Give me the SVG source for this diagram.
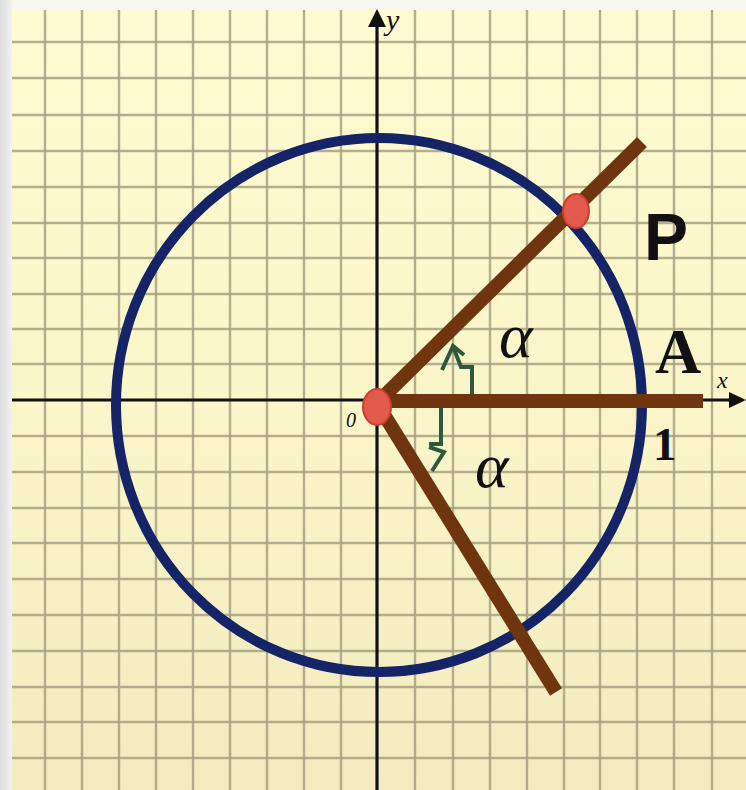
<svg xmlns="http://www.w3.org/2000/svg" width="746" height="790" viewBox="0 0 746 790">
  <defs>
    <linearGradient id="paper" x1="0" y1="0" x2="0" y2="1">
      <stop offset="0" stop-color="#fefbd2"/>
      <stop offset="0.5" stop-color="#fbf6c9"/>
      <stop offset="1" stop-color="#f1ebbf"/>
    </linearGradient>
    <linearGradient id="edge" x1="0" y1="0" x2="1" y2="0">
      <stop offset="0" stop-color="#dcdcdc"/>
      <stop offset="1" stop-color="#f2f2f0"/>
    </linearGradient>
  </defs>
  <style>
    .grid line { stroke: #a9a283; stroke-width: 2.4; opacity: 0.85; }
    .axis { stroke: #111111; stroke-width: 3.2; fill: none; }
    .arrowhead { fill: #111111; }
    .ray { stroke: #6f350e; stroke-width: 14; stroke-linecap: butt; }
    .dot { fill: #e25a4b; stroke: #cc3f30; stroke-width: 2; }
    .mark { stroke: #2e5a3b; stroke-width: 4; fill: none; stroke-linejoin: miter; }
    .serif { font-family: "Liberation Serif", "Times New Roman", serif; fill: #111111; }
    .sans { font-family: "Liberation Sans", Arial, sans-serif; fill: #111111; }
  </style>

  <!-- paper -->
  <rect x="0" y="0" width="746" height="790" fill="#f6f6f3"/>
  <rect x="0" y="0" width="12" height="790" fill="url(#edge)"/>
  <rect x="12" y="10" width="734" height="780" fill="url(#paper)"/>

  <g id="grid" class="grid">
    <line x1="45" y1="10" x2="45" y2="790"/>
    <line x1="82" y1="10" x2="82" y2="790"/>
    <line x1="119" y1="10" x2="119" y2="790"/>
    <line x1="156" y1="10" x2="156" y2="790"/>
    <line x1="193" y1="10" x2="193" y2="790"/>
    <line x1="230" y1="10" x2="230" y2="790"/>
    <line x1="267" y1="10" x2="267" y2="790"/>
    <line x1="304" y1="10" x2="304" y2="790"/>
    <line x1="341" y1="10" x2="341" y2="790"/>
    <line x1="415" y1="10" x2="415" y2="790"/>
    <line x1="453" y1="10" x2="453" y2="790"/>
    <line x1="490" y1="10" x2="490" y2="790"/>
    <line x1="527" y1="10" x2="527" y2="790"/>
    <line x1="564" y1="10" x2="564" y2="790"/>
    <line x1="600" y1="10" x2="600" y2="790"/>
    <line x1="637" y1="10" x2="637" y2="790"/>
    <line x1="674" y1="10" x2="674" y2="790"/>
    <line x1="712" y1="10" x2="712" y2="790"/>

    <line x1="12" y1="42" x2="746" y2="42"/>
    <line x1="12" y1="78" x2="746" y2="78"/>
    <line x1="12" y1="115" x2="746" y2="115"/>
    <line x1="12" y1="151" x2="746" y2="151"/>
    <line x1="12" y1="187" x2="746" y2="187"/>
    <line x1="12" y1="223" x2="746" y2="223"/>
    <line x1="12" y1="258" x2="746" y2="258"/>
    <line x1="12" y1="294" x2="746" y2="294"/>
    <line x1="12" y1="329" x2="746" y2="329"/>
    <line x1="12" y1="364" x2="746" y2="364"/>
    <line x1="12" y1="436" x2="746" y2="436"/>
    <line x1="12" y1="472" x2="746" y2="472"/>
    <line x1="12" y1="508" x2="746" y2="508"/>
    <line x1="12" y1="543" x2="746" y2="543"/>
    <line x1="12" y1="579" x2="746" y2="579"/>
    <line x1="12" y1="615" x2="746" y2="615"/>
    <line x1="12" y1="651" x2="746" y2="651"/>
    <line x1="12" y1="687" x2="746" y2="687"/>
    <line x1="12" y1="722" x2="746" y2="722"/>
    <line x1="12" y1="758" x2="746" y2="758"/>
  </g>

  <g id="axes">
    <line class="axis" x1="12" y1="400" x2="732" y2="400"/>
    <polygon class="arrowhead" points="746,400 729,392 729,408"/>
    <line class="axis" x1="377" y1="790" x2="377" y2="24"/>
    <polygon class="arrowhead" points="377,9 368,27 386,27"/>
    <text class="serif" x="386" y="30" font-size="30" font-style="italic">y</text>
    <text class="serif" x="717" y="388" font-size="24" font-style="italic">x</text>
    <text class="serif" x="346" y="427" font-size="20" font-style="italic" fill="#555555">0</text>
  </g>

  <g id="unit-circle">
    <ellipse cx="379" cy="405" rx="263" ry="267" fill="none" stroke="#152466" stroke-width="10"/>
  </g>

  <g id="connectors">
    <line class="ray" x1="378" y1="401" x2="703" y2="401"/>
    <line class="ray" x1="378" y1="402" x2="642" y2="142" stroke-width="15"/>
    <line class="ray" x1="378" y1="405" x2="556" y2="692" stroke-width="15"/>
    <path class="mark" d="M472,394 V367 H461 L454,349"/>
    <path class="mark" d="M442,370 L453,346 L464,355"/>
    <path class="mark" d="M441,408 V444 H429"/>
    <path class="mark" d="M429,447 L444,452 L432,471"/>
  </g>

  <g id="node-O">
    <ellipse class="dot" cx="377" cy="407" rx="14" ry="18"/>
  </g>

  <g id="node-P">
    <ellipse class="dot" cx="576" cy="211" rx="13" ry="17"/>
    <text class="sans" x="644" y="260" font-size="66" font-weight="bold">P</text>
  </g>

  <g id="node-A">
    <text class="serif" x="655" y="373" font-size="64" font-weight="bold">A</text>
    <text class="serif" x="653" y="460" font-size="47" font-weight="bold">1</text>
  </g>

  <g id="angle-labels">
    <text class="serif" x="499" y="357" font-size="64" font-style="italic">α</text>
    <text class="serif" x="475" y="487" font-size="64" font-style="italic">α</text>
  </g>
</svg>
